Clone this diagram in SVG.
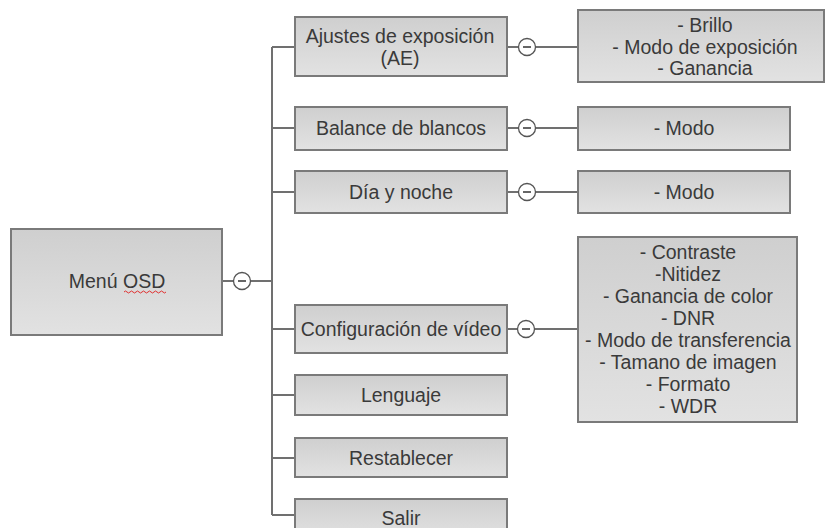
<svg xmlns="http://www.w3.org/2000/svg" width="826" height="528" viewBox="0 0 826 528">
<defs>
<linearGradient id="g" x1="0" y1="0" x2="0" y2="1">
<stop offset="0" stop-color="#cfcfcf"/>
<stop offset="1" stop-color="#e2e2e2"/>
</linearGradient>
<g id="tog"><circle r="8.5" fill="#fff" stroke="#555" stroke-width="1.3"/><line x1="-4" y1="0" x2="4" y2="0" stroke="#333" stroke-width="1.5"/></g>
</defs>
<style>
rect.b{fill:url(#g);stroke:#7a7a7a;stroke-width:2}
text{font-family:"Liberation Sans",Arial,sans-serif;font-size:19.5px;fill:#3a3a3a;text-anchor:middle;dominant-baseline:central}
.c{stroke:#707070;stroke-width:2;fill:none}
</style>
<rect width="826" height="528" fill="#fff"/>
<g id="connectors">
<path class="c" d="M222,281H272M272,47V515M272,47H295M272,128H295M272,192H295M272,329H295M272,395H295M272,458H295M272,515H295"/>
<path class="c" d="M507,47H578M507,128H578M507,192H578M507,329H578"/>
<use href="#tog" x="242" y="281"/>
<use href="#tog" x="527" y="47"/>
<use href="#tog" x="527" y="128"/>
<use href="#tog" x="527" y="192"/>
<use href="#tog" x="526" y="329"/>
</g>
<g id="menu"><rect class="b" x="11" y="229" width="211" height="106"/><text x="117" y="281">Menú OSD</text><path d="M124,292q1.5,-2 3,0t3,0t3,0t3,0t3,0t3,0t3,0t3,0t3,0t3,0t3,0t3,0t3,0t3,0" fill="none" stroke="#e03030" stroke-width="1"/></g>
<g id="ajustes"><rect class="b" x="295" y="17" width="212" height="59"/><text x="400" y="36">Ajustes de exposición</text><text x="400" y="58">(AE)</text></g>
<g id="ae-list"><rect class="b" x="578" y="10" width="246" height="72"/><text x="705" y="25">- Brillo</text><text x="705" y="47">- Modo de exposición</text><text x="705" y="68">- Ganancia</text></g>
<g id="balance"><rect class="b" x="295" y="107" width="212" height="43"/><text x="401" y="128">Balance de blancos</text></g>
<g id="balance-modo"><rect class="b" x="578" y="107" width="212" height="43"/><text x="684" y="128">- Modo</text></g>
<g id="dia"><rect class="b" x="295" y="171" width="212" height="42"/><text x="401" y="192">Día y noche</text></g>
<g id="dia-modo"><rect class="b" x="578" y="171" width="212" height="42"/><text x="684" y="192">- Modo</text></g>
<g id="video"><rect class="b" x="295" y="305" width="212" height="48"/><text x="401" y="329">Configuración de vídeo</text></g>
<g id="video-list"><rect class="b" x="578" y="237" width="219" height="185"/>
<text x="688" y="252">- Contraste</text><text x="688" y="274">-Nitidez</text><text x="688" y="296">- Ganancia de color</text><text x="688" y="318">- DNR</text><text x="688" y="340">- Modo de transferencia</text><text x="688" y="362">- Tamano de imagen</text><text x="688" y="384">- Formato</text><text x="688" y="406">- WDR</text></g>
<g id="lenguaje"><rect class="b" x="295" y="375" width="212" height="40"/><text x="401" y="395">Lenguaje</text></g>
<g id="restablecer"><rect class="b" x="295" y="438" width="212" height="39"/><text x="401" y="458">Restablecer</text></g>
<g id="salir"><rect class="b" x="295" y="499" width="212" height="40"/><text x="401" y="518">Salir</text></g>
</svg>
